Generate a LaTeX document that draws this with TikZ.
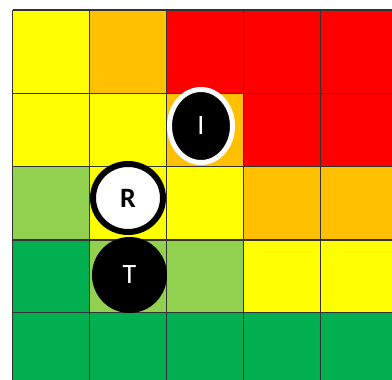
\documentclass[tikz,border=0pt]{standalone}
\usepackage{fontspec}
\setmainfont{Carlito}
\usetikzlibrary{shapes.geometric}
\definecolor{cy}{HTML}{FFFF00}
\definecolor{co}{HTML}{FFC000}
\definecolor{cr}{HTML}{FF0000}
\definecolor{clg}{HTML}{92D050}
\definecolor{cg}{HTML}{00B050}
\definecolor{gridc}{HTML}{333333}
\tikzset{
  cell/.style={draw=gridc, line width=0.8pt},
  token/.style={ellipse, inner sep=0pt, font=\fontsize{14}{14}\selectfont},
}
\begin{document}
\begin{tikzpicture}[x=0.5pt,y=-0.5pt]
\useasboundingbox (0,0) rectangle (392,380);
\fill[white] (0,0) rectangle (392,380);
\begin{scope}
\clip (0,0) rectangle (392,380);
\def\xs{{12.5,89.5,166.5,243.5,320.5,397.5}}
\def\ys{{10,93.5,166.5,240,312.5,385}}
\foreach \r/\row in {0/{cy,co,cr,cr,cr},1/{cy,cy,co,cr,cr},2/{clg,cy,cy,co,co},3/{cg,clg,clg,cy,cy},4/{cg,cg,cg,cg,cg}}{
  \foreach \c [count=\i from 0] in \row {
    \pgfmathsetmacro\xa{\xs[\i]}
    \pgfmathsetmacro\xb{\xs[\i+1]}
    \pgfmathsetmacro\ya{\ys[\r]}
    \pgfmathsetmacro\yb{\ys[\r+1]}
    \fill[\c] (\xa,\ya) rectangle (\xb,\yb);
  }
}
\foreach \x in {12.5,89.5,166.5,243.5,320.5} \draw[cell] (\x,10) -- (\x,385);
\foreach \y in {10,93.5,166.5,240,312.5} \draw[cell] (12.5,\y) -- (397.5,\y);
\end{scope}
\node[token, fill=black, draw=white, line width=2.5pt, minimum width=31.5pt, minimum height=36.5pt, text=white] (I) at (201,126) {\raisebox{-1pt}{I}};
\node[token, fill=black, minimum width=37.5pt, minimum height=38pt, text=white] (T) at (129.5,275) {\raisebox{-1.5pt}{T}};
\node[token, fill=white, draw=black, line width=3pt, minimum width=35pt, minimum height=34pt, text=black, font=\fontsize{14}{14}\selectfont\bfseries] (R) at (128,198) {\raisebox{-2pt}{R}};
\end{tikzpicture}
\end{document}
